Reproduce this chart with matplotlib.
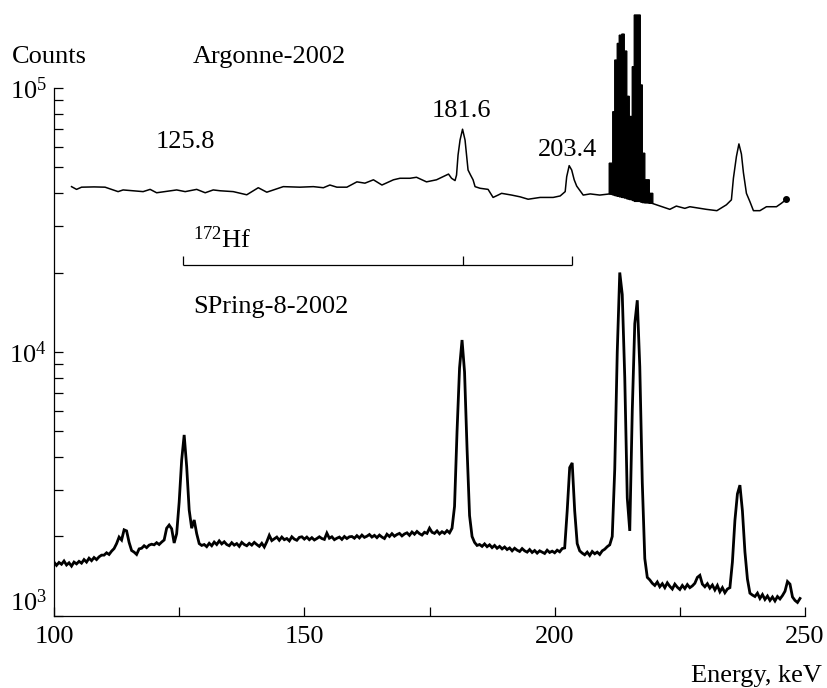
import numpy as np
import matplotlib
matplotlib.use("Agg")
import matplotlib.pyplot as plt
from matplotlib.ticker import FixedLocator, LogLocator, MultipleLocator, NullFormatter

# SPring-8-2002 spectrum, 0.5 keV channels from 100 to 249 keV
spring_E = np.arange(100.0, 249.01, 0.5)
spring_counts = [
    # 100.0 - 104.5
    1600, 1555, 1595, 1570, 1615, 1560, 1590, 1545, 1600, 1575,
    # 105.0 - 109.5
    1610, 1585, 1635, 1600, 1655, 1620, 1665, 1635, 1675, 1700,
    # 110.0 - 114.5
    1700, 1735, 1710, 1760, 1800, 1880, 1990, 1940, 2120, 2100,
    # 115.0 - 119.5
    1900, 1770, 1745, 1710, 1795, 1805, 1845, 1815, 1855, 1870,
    # 120.0 - 124.5
    1860, 1895, 1865, 1905, 1940, 2150, 2210, 2140, 1890, 2050,
    # 125.0 - 129.5
    2700, 3900, 4850, 3680, 2520, 2150, 2310, 2050, 1880, 1850,
    # 130.0 - 134.5
    1865, 1830, 1885, 1845, 1905, 1865, 1925, 1875, 1910, 1865,
    # 135.0 - 139.5
    1845, 1895, 1855, 1880, 1835, 1900, 1865, 1845, 1885, 1855,
    # 140.0 - 144.5
    1900, 1865, 1835, 1885, 1825, 1910, 2020, 1930, 1960, 1990,
    # 145.0 - 149.5
    1935, 1990, 1945, 1965, 1925, 1995, 1955, 1935, 1985, 1995,
    # 150.0 - 154.5
    1955, 1990, 1945, 1980, 1940, 1965, 1995, 1965, 1950, 2060,
    # 155.0 - 159.5
    1970, 1995, 1945, 1970, 1990, 1950, 2000, 1965, 1995, 2000,
    # 160.0 - 164.5
    1970, 2015, 1975, 2025, 1985, 2005, 2035, 1990, 2020, 1980,
    # 165.0 - 169.5
    2025, 1990, 1965, 2040, 2000, 2050, 2005, 2035, 2055, 2010,
    # 170.0 - 174.5
    2045, 2065, 2020, 2080, 2040, 2090, 2050, 2025, 2075, 2055,
    # 175.0 - 179.5
    2150, 2075, 2055, 2100, 2045, 2085, 2055, 2105, 2065, 2150,
    # 180.0 - 184.5
    2600, 5000, 8700, 11100, 8400, 4300, 2400, 2000, 1900, 1850,
    # 185.0 - 189.5
    1865, 1835, 1875, 1830, 1860, 1815, 1850, 1805, 1835, 1795,
    # 190.0 - 194.5
    1825, 1785, 1810, 1765, 1805, 1775, 1755, 1800, 1765, 1745,
    # 195.0 - 199.5
    1785, 1740, 1770, 1730, 1765, 1745, 1725, 1775, 1740, 1760,
    # 200.0 - 204.5
    1735, 1775, 1750, 1800, 1810, 2500, 3650, 3800, 2500, 1880,
    # 205.0 - 209.5
    1765, 1730, 1705, 1745, 1695, 1755, 1720, 1745, 1710, 1765,
    # 210.0 - 214.5
    1790, 1830, 1860, 2000, 3600, 10000, 20000, 16500, 8000, 2800,
    # 215.0 - 219.5
    2100, 6000, 12800, 15700, 8800, 3200, 1650, 1400, 1370, 1330,
    # 220.0 - 224.5
    1305, 1345, 1290, 1325, 1280, 1335, 1295, 1265, 1320, 1285,
    # 225.0 - 229.5
    1260, 1305, 1270, 1315, 1280, 1300, 1330, 1400, 1425, 1320,
    # 230.0 - 234.5
    1290, 1325, 1275, 1310, 1255, 1305, 1235, 1280, 1225, 1265,
    # 235.0 - 239.5
    1280, 1600, 2300, 2900, 3130, 2500, 1750, 1380, 1220, 1200,
    # 240.0 - 244.5
    1185, 1220, 1165, 1205, 1155, 1190, 1145, 1180, 1140, 1185,
    # 245.0 - 249.0
    1160, 1195, 1240, 1350, 1320, 1180, 1145, 1125, 1165,
]
assert len(spring_counts) == len(spring_E)

# Argonne-2002 spectrum (shifted up on the same log axis)
argonne_E = [
    103.5, 104.5, 105.5, 108.0, 110.2, 112.8, 113.8, 117.8, 119.2, 120.5,
    124.5, 126.2, 128.5, 130.2, 131.8, 133.2, 135.8, 138.5, 140.8, 142.5,
    145.8, 149.1, 151.8, 153.8, 155.1, 156.5, 158.5, 160.5, 162.1, 163.8,
    165.5, 167.8, 169.1, 171.1, 172.4, 174.4, 176.4, 178.8, 179.4, 180.1,
    180.4, 180.7, 181.1, 181.6, 182.1, 182.4, 182.7, 183.2, 183.7, 184.1,
    185.1, 186.7, 187.7, 188.7, 189.4, 191.4, 193.1, 194.7, 197.1, 199.7,
    201.1, 202.1, 202.4, 202.9, 203.4, 203.9, 204.4, 205.7, 207.1, 209.0,
    211.0, 215.0, 219.4, 223.0, 224.3, 226.0, 227.0, 230.3, 232.4, 234.3,
    235.3, 235.7, 236.3, 236.8, 237.3, 237.7, 238.3, 239.0, 239.7, 241.0,
    242.3, 244.3, 245.3, 246.3,
]
argonne_counts = [
    42300, 41300, 42100, 42200, 42100, 40500, 41100, 40500, 41300, 40100,
    41100, 40500, 41300, 40100, 41100, 40800, 40500, 39400, 41900, 40300,
    42300, 42100, 42300, 41900, 42900, 42100, 42100, 44100, 43600, 44900,
    42900, 44900, 45500, 45500, 45900, 44100, 44900, 47200, 45500, 44600,
    46800, 55700, 63500, 69800, 63500, 55700, 48900, 46800, 44900, 42300,
    41700, 41300, 38500, 39300, 39900, 39300, 38700, 37900, 38500, 38500,
    39000, 40500, 46100, 50800, 48900, 44900, 42500, 39300, 39700, 39300,
    39700, 38200, 36600, 34700, 35700, 35000, 35500, 34700, 34300, 36100,
    37700, 45500, 55000, 61400, 56200, 47800, 39900, 37100, 34300, 34300,
    35500, 35500, 36600, 37900,
]

# blacked-out doublet in the Argonne spectrum (step histogram)
fill_edges = [210.9, 211.6, 212.0, 212.5, 212.9, 213.4, 213.9, 214.4, 214.9,
              215.5, 215.9, 217.1, 217.5, 218.0, 218.9, 219.6]
fill_heights = [51900, 81300, 127600, 147500, 158500, 160000, 138000, 93000,
                78000, 120400, 189000, 102700, 56600, 44900, 39900]
fill_floor = [39700, 39400, 39100, 38900, 38700, 38500, 38300, 38000,
              37800, 37500, 37200, 37000, 36800, 36700, 36600]

# 172Hf lines marked by the bracket
hf_lines = [125.8, 181.6, 203.4]
HF_Y, HF_TICK = 21400, 23100

plt.rcParams.update({
    "font.family": "Liberation Serif", "font.size": 19,
    "mathtext.fontset": "custom", "mathtext.rm": "Liberation Serif",
    "mathtext.it": "Liberation Serif:italic", "mathtext.bf": "Liberation Serif:bold",
})

fig = plt.figure(figsize=(8.27, 6.88), dpi=100)
ax = fig.add_axes([0.0653, 0.1047, 0.9081, 0.7674])
ax.set_yscale("log")

ax.plot(spring_E, spring_counts, color="k", lw=2.0, solid_joinstyle="miter")
ax.plot(argonne_E, argonne_counts, color="k", lw=1.1, clip_on=False)
ax.plot(argonne_E[-1], argonne_counts[-1], "o", ms=4, color="k", clip_on=False)

# step outline of the filled doublet, drawn as one closed polygon
sx = np.repeat(fill_edges, 2)[1:-1]
stop = np.repeat(fill_heights, 2)
sbot = np.repeat(fill_floor, 2)
ax.fill(np.concatenate([sx, sx[::-1]]), np.concatenate([stop, sbot[::-1]]),
        facecolor="k", edgecolor="k", lw=1.0, snap=False, clip_on=False)

ax.hlines(HF_Y, hf_lines[0], hf_lines[-1], color="k", lw=0.9)
ax.vlines(hf_lines, HF_Y, HF_TICK, color="k", lw=0.9)

ax.set_xlim(100, 250)
ax.set_ylim(1e3, 1e5)
for s in ("top", "right"):
    ax.spines[s].set_visible(False)
for s in ("left", "bottom"):
    ax.spines[s].set_linewidth(0.9)

ax.xaxis.set_major_locator(MultipleLocator(50))
ax.xaxis.set_minor_locator(MultipleLocator(25))
ax.yaxis.set_major_locator(FixedLocator([1e3, 1e4, 1e5]))
ax.yaxis.set_minor_locator(LogLocator(base=10, subs=np.arange(2, 10)))
ax.yaxis.set_minor_formatter(NullFormatter())
ax.set_yticklabels([r"$\mathregular{10^3}$", r"$\mathregular{10^4}$", r"$\mathregular{10^5}$"])
ax.tick_params(which="both", direction="in", length=6.5, width=0.9)
ax.tick_params(axis="x", pad=7)
ax.tick_params(axis="y", pad=5)
ax.yaxis.get_major_ticks()[0].label1.set_va("bottom")

# labels
fig.text(12 / 827, 1 - 63 / 688, "Counts", ha="left", va="baseline")
fig.text(822 / 827, 1 - 682 / 688, "Energy, keV", ha="right", va="baseline")
ax.text(127.8, 124400, "Argonne-2002", va="baseline")
ax.text(120.4, 59300, "125.8", va="baseline")
ax.text(175.5, 77600, "181.6", va="baseline")
ax.text(196.7, 55200, "203.4", va="baseline")
ax.text(127.8, 24800, r"$\mathregular{^{172}}$Hf", va="baseline")
ax.text(127.8, 14100, "SPring-8-2002", va="baseline")

fig.savefig("out.png", dpi=100)
